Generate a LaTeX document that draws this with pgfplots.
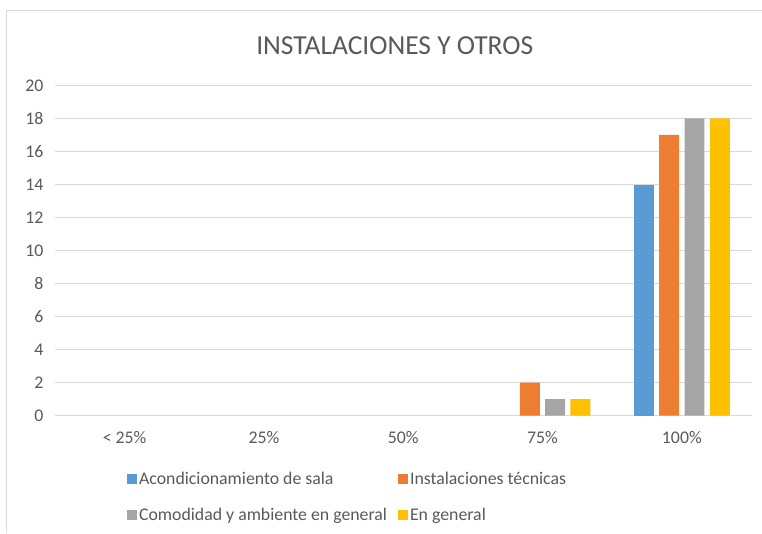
\documentclass[border=0pt]{standalone}
\usepackage{pgfplots}
\pgfplotsset{compat=1.18}
\usepackage{fontspec}
\setmainfont{Carlito}
\definecolor{cblue}{HTML}{5B9BD5}
\definecolor{corange}{HTML}{ED7D31}
\definecolor{cgray}{HTML}{A5A5A5}
\definecolor{cgold}{HTML}{FFC000}
\definecolor{ctext}{HTML}{595959}
\definecolor{cgrid}{HTML}{D9D9D9}
\begin{document}
\begin{tikzpicture}[x=1pt,y=1pt]
\path (0,0) rectangle (762,533);
\draw[cgrid,line width=1pt] (7,0) -- (7,522) -- (762,522);
\node[text=ctext,font=\fontsize{27.5pt}{31pt}\selectfont] at (395,487) {INSTALACIONES Y OTROS};
\begin{axis}[
  at={(55pt,117pt)}, anchor=south west,
  scale only axis, width=697pt, height=330.5pt,
  xmin=-0.5, xmax=4.5, ymin=0, ymax=20,
  ytick={0,2,...,20}, xtick={0,1,2,3,4},
  xticklabels={{< 25\%},{25\%},{50\%},{75\%},{100\%}},
  ybar=5.3pt, bar width=20pt,
  axis line style={draw=none},
  major tick length=0pt,
  ymajorgrids, grid style={cgrid,line width=1.3pt},
  /pgf/number format/assume math mode=true,
  tick label style={text=ctext,font=\fontsize{17.8pt}{21pt}\selectfont},
  yticklabel style={xshift=-8pt},
  xticklabel style={yshift=-12pt},
  legend columns=2,
  legend cell align=left,
  legend style={draw=none, fill=none, at={(127pt-55pt,63pt-117pt)}, anchor=north west,
    font=\fontsize{17.8pt}{21pt}\selectfont, text=ctext,
    row sep=18pt, inner sep=0pt,
    /tikz/every even column/.append style={column sep=9pt}},
  legend image code/.code={\fill[#1,draw=none] (0pt,-5pt) rectangle (10pt,5pt);},
]
\addplot[fill=cblue,draw=none] coordinates {(4,14)};
\addplot[fill=corange,draw=none] coordinates {(3,2) (4,17)};
\addplot[fill=cgray,draw=none] coordinates {(3,1) (4,18)};
\addplot[fill=cgold,draw=none] coordinates {(3,1) (4,18)};
\legend{Acondicionamiento de sala,Instalaciones técnicas,Comodidad y ambiente en general,En general}
\end{axis}
\end{tikzpicture}
\end{document}
